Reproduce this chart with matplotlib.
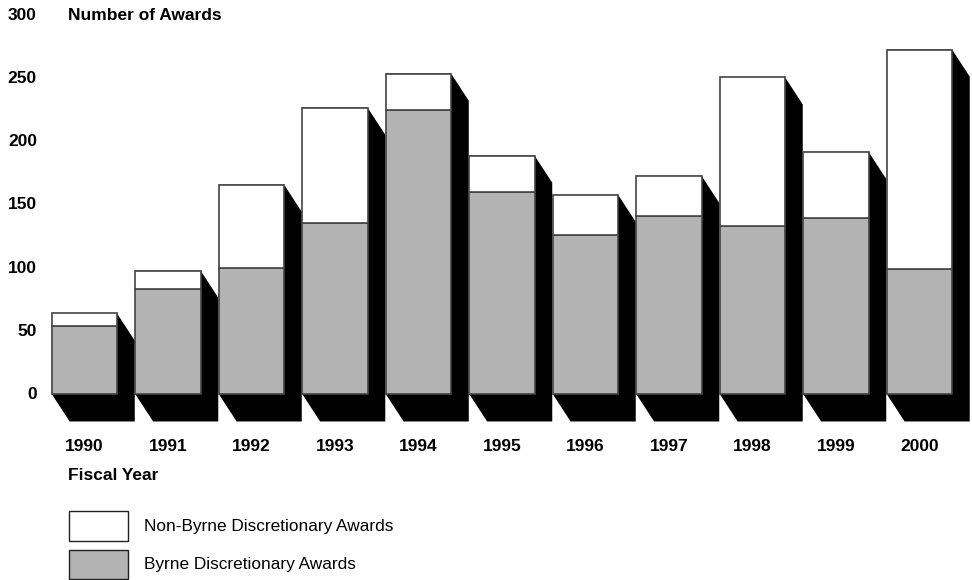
import matplotlib.pyplot as plt
from matplotlib.patches import Polygon, Rectangle

# data
years = ["1990", "1991", "1992", "1993", "1994", "1995", "1996", "1997", "1998", "1999", "2000"]
byrne = [54, 83, 100, 136, 225, 160, 126, 141, 133, 140, 99]
total = [64, 98, 166, 227, 254, 189, 158, 173, 251, 192, 273]
non_byrne = [t - b for t, b in zip(total, byrne)]
y_ticks = [0, 50, 100, 150, 200, 250, 300]

plt.rcParams["font.family"] = ["Liberation Sans", "DejaVu Sans"]

fig = plt.figure(figsize=(9.72, 5.8), dpi=100)
ax = fig.add_axes([0, 0, 1, 1])
ax.set_xlim(-1.012, 10.629)
ax.set_ylim(-147.0, 312.2)
ax.axis("off")

W = 0.78      # bar width
DX = 0.212    # shadow offset
DY = 21.5
GRAY = "#b3b3b3"
EDGE = "#444444"

for i, (b, nb) in enumerate(zip(byrne, non_byrne)):
    x0 = i - W / 2
    x1 = i + W / 2
    top = b + nb
    shadow = Polygon([(x0, 0), (x0, top), (x1, top), (x1 + DX, top - DY),
                      (x1 + DX, -DY), (x0 + DX, -DY)],
                     closed=True, facecolor="black", edgecolor="none", zorder=1)
    ax.add_patch(shadow)
    ax.add_patch(Rectangle((x0, 0), W, b, facecolor=GRAY, edgecolor=EDGE,
                           linewidth=1.2, zorder=2))
    ax.add_patch(Rectangle((x0, b), W, nb, facecolor="white", edgecolor=EDGE,
                           linewidth=1.2, zorder=2))

# y tick labels
for v in y_ticks:
    ax.text(-0.57, v, str(v), ha="right", va="center", fontsize=12.5,
            fontweight="bold")
ax.text(-0.195, 300, "Number of Awards", ha="left", va="center",
        fontsize=12.5, fontweight="bold")

# x tick labels
for i, yr in enumerate(years):
    ax.text(i, -41.5, yr, ha="center", va="center", fontsize=12.5,
            fontweight="bold")
ax.text(-0.195, -64.5, "Fiscal Year", ha="left", va="center",
        fontsize=12.5, fontweight="bold")

# legend
fig.patches.append(Rectangle((69 / 972, 1 - 540.5 / 580), 59 / 972, 29.5 / 580,
                             transform=fig.transFigure, facecolor="white",
                             edgecolor="#222222", linewidth=1.0))
fig.patches.append(Rectangle((69 / 972, 1 - 579 / 580), 59 / 972, 29.5 / 580,
                             transform=fig.transFigure, facecolor=GRAY,
                             edgecolor="#222222", linewidth=1.0))
fig.text(144 / 972, 1 - 526.5 / 580, "Non-Byrne Discretionary Awards",
         ha="left", va="center", fontsize=12.4)
fig.text(144 / 972, 1 - 564 / 580, "Byrne Discretionary Awards",
         ha="left", va="center", fontsize=12.4)

plt.savefig("out.png", dpi=100)
